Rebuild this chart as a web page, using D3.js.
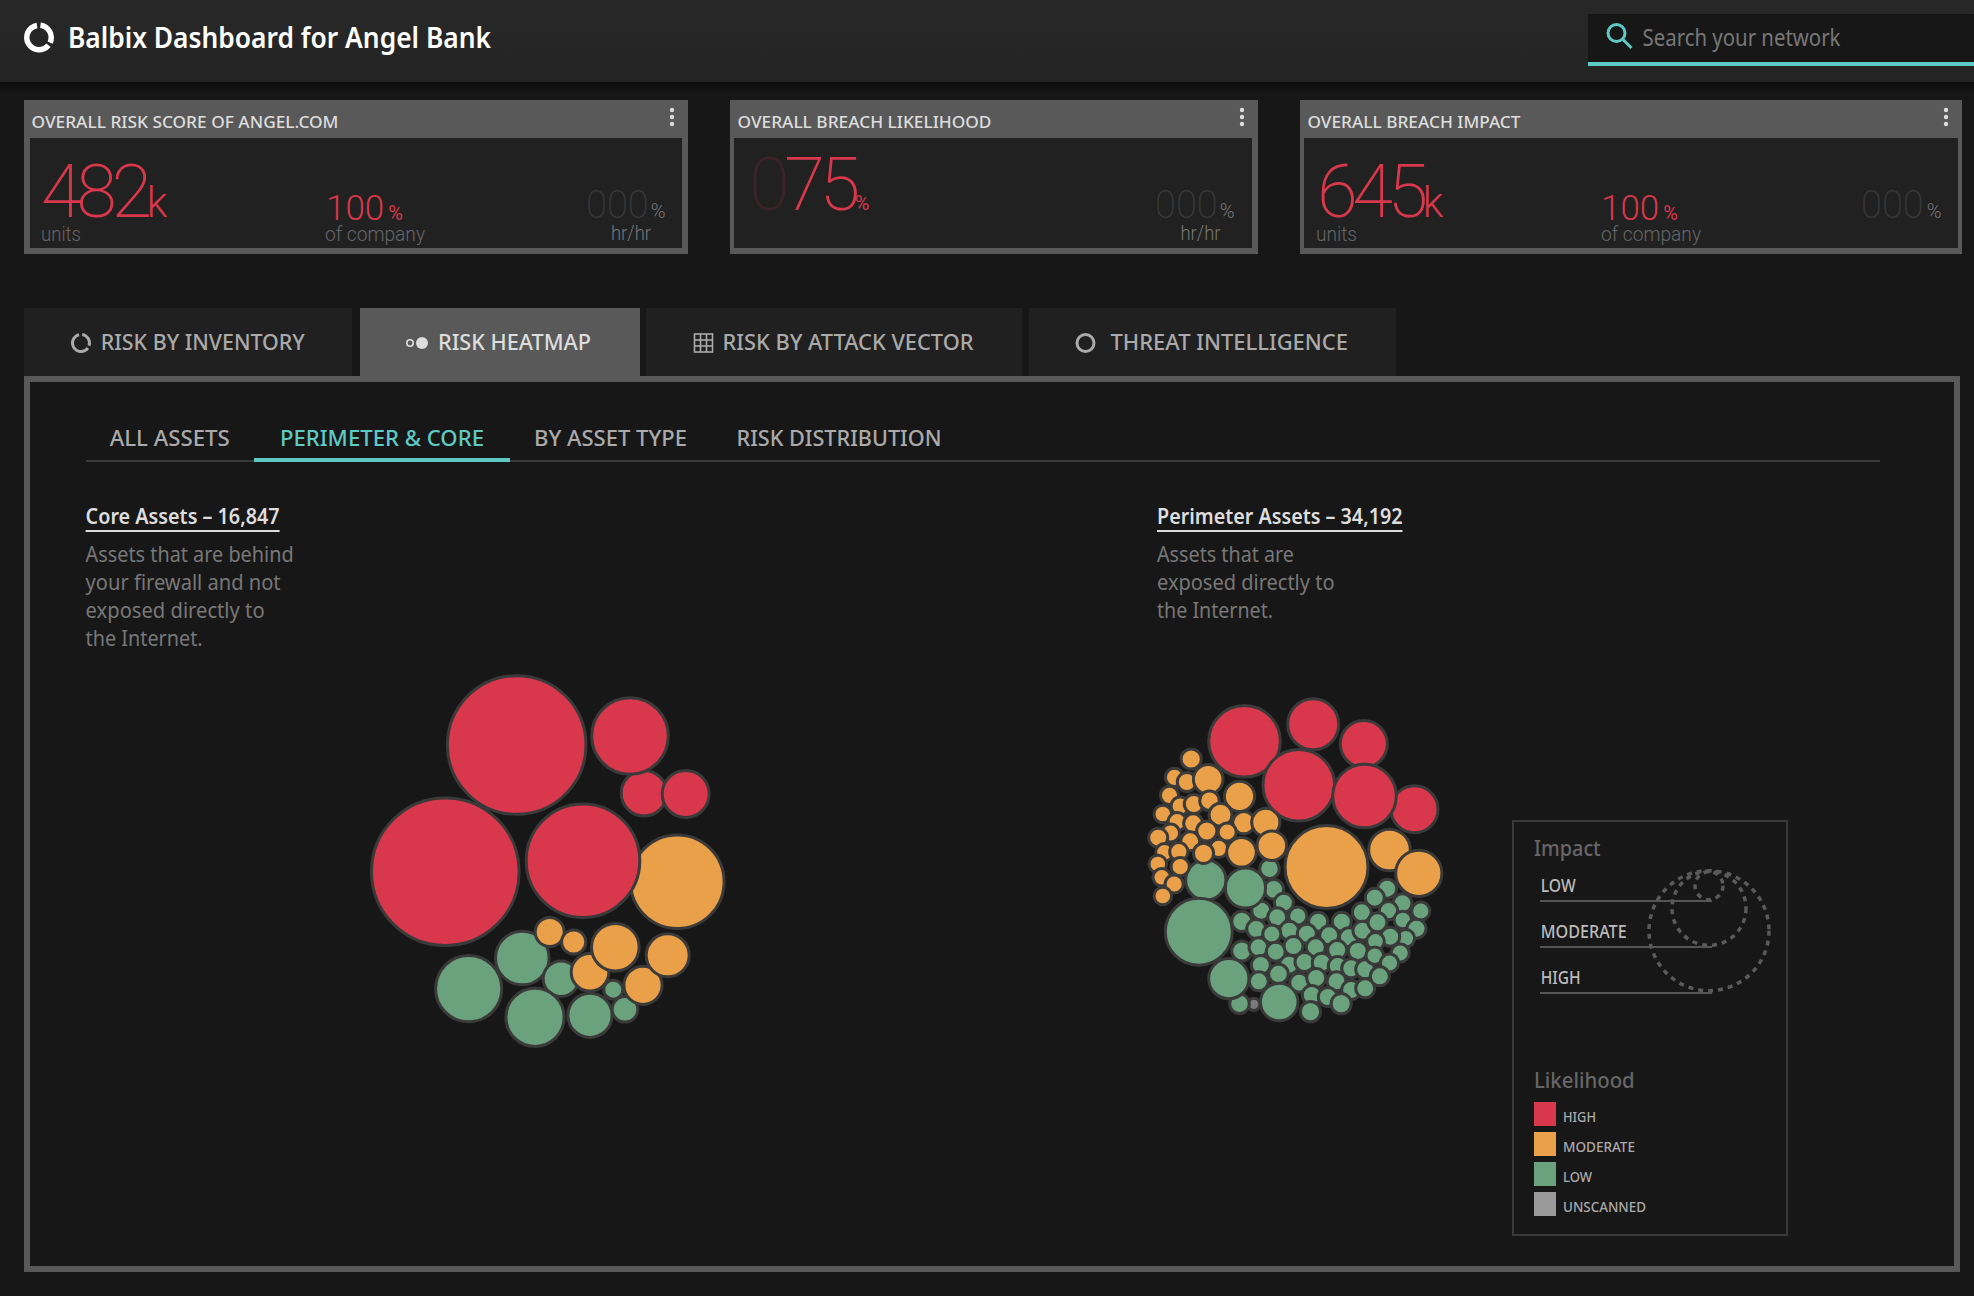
<!DOCTYPE html>
<html>
<head>
<meta charset="utf-8">
<title>Balbix Dashboard</title>
<script src="https://cdn.jsdelivr.net/npm/d3@7"></script>
<style>
html, body { margin: 0; padding: 0; background: #171717; }
svg { display: block; }
text { font-family: "Noto Sans", sans-serif; }
</style>
</head>
<body>
<div id="chart"></div>
<script>
// values: [x offset, y offset, impact] from each cluster's middle
var coreLow = [[-42.7,78,26],[-96.3,108.7,32.3],[-4,98.7,17],[-30,137.3,28.3],[25,135.3,21.3],[48.3,109.7,8.7],[60,129.3,12]];
var coreModerate = [[112.3,1.7,46],[-15.3,52,13.7],[8.7,62,11.3],[25,92.3,18],[50.3,67.3,23],[78,105.3,18.3],[102.7,75.3,20.7]];
var coreHigh = [[-119.7,-8.3,73],[-48.3,-135,68.5],[18,-19.3,56],[79,-86.7,22],[65,-144,37.5],[120.7,-86,22.7]];

var perimeterLow = [[-21,-11.3,9],[-16.7,9.3,9],[-6.7,22.7,8.7],[-29.3,30.7,8.7],[-13.3,37.3,8.7],[7.3,36,8.3],[-48.7,41.3,9.3],
    [27.7,41.7,8.7],[51.3,41.7,8.7],[71.3,32.3,8.7],[-34.3,49,8.7],[-1.3,50.7,8.7],[-18.7,54,8.3],[16.3,53.7,8.7],[38.7,55.3,8.7],
    [58.3,57.3,8.7],[72,50.7,8.7],[-48.7,71,9.3],[-32,67.3,8.7],[-14.7,71.7,8.7],[3,66,8.7],[25.3,67.3,8.7],[46.7,70,8.7],[67.3,71,8.7],
    [-29.7,85,8.7],[-1.3,84.7,8.7],[14,82,8.7],[31.3,82.7,8.7],[47.3,86,8.7],[60.7,88.3,8.7],[74.7,89.3,8.7],[-12,94,9],[-31.7,101.3,8.7],
    [8.7,102.7,8.7],[25.7,98,8.7],[46,101.3,8.7],[60.7,110,8.7],[74.7,108.3,8.7],[21.3,115,8.7],[37.3,117,8.7],[50.7,123.7,9.3],[20,131.7,9.3],
    [-51,123.7,9],[96.7,8.7,8.7],[84.3,17.7,8.7],[112,23.3,8.7],[130.3,31,8.3],[98,30.7,8.3],[112.3,40,8],[87,42.3,8.7],[126,48.7,8.7],
    [115.3,58.3,8],[99.7,56.7,8.7],[85,61.3,8],[109.7,73,8.3],[84.3,75.7,8],[99,83,8.3],[89.3,96.3,8.7],
    [-84.7,0,19.3],[-45,8,19.3],[-91.7,51.7,32.7],[-61.7,98.7,19.3],[-11.3,122,18]];
var perimeterModerate = [[-99.3,-121,9.3],[-116,-102.7,8.3],[-103.7,-98,8.7],[-82.3,-100.7,14],[-51,-83.7,14.3],[-121,-84.7,8.3],[-110.3,-74,8.3],
    [-96.7,-76,8.7],[-81,-79.3,9],[-127.7,-66,8],[-70,-65.3,10.7],[-113.3,-58.3,8.3],[-97.3,-56.7,8.7],[-46.7,-57.3,10.3],[-24.7,-57.7,13.3],
    [-83.7,-49,9.3],[-63.3,-48,8.3],[-120,-47,8.3],[-132.3,-42.3,8.7],[-100.3,-38.7,8.7],[-71.7,-31.7,8.3],[-49,-27.7,14],[-18.7,-34.3,14],
    [-126,-27.7,8],[-111.7,-28.3,8.3],[-87,-26.7,9.3],[-132.7,-16,8],[-110.3,-13.3,8.3],[-128.7,-2.7,8],[-116.3,4,8.3],[-127.7,16,8],
    [36,-13,40.7],[99,-30,20],[128.3,-6.7,22.3]];
var perimeterHigh = [[-46,-138.7,35],[22.7,-155.7,24.7],[8.3,-94.7,35],[73.3,-136,22.7],[124,-70.7,22.7],[74,-84,31]];
var perimeterUnscanned = [[-36.7,124.3,5.3]];

var cardTitles = ["OVERALL RISK SCORE OF ANGEL.COM", "OVERALL BREACH LIKELIHOOD", "OVERALL BREACH IMPACT"];
var tabLabels = ["RISK BY INVENTORY", "RISK HEATMAP", "RISK BY ATTACK VECTOR", "THREAT INTELLIGENCE"];
var subTabLabels = ["ALL ASSETS", "PERIMETER & CORE", "BY ASSET TYPE", "RISK DISTRIBUTION"];
var impactLabels = ["LOW", "MODERATE", "HIGH"];
var likelihoodLabels = ["HIGH", "MODERATE", "LOW", "UNSCANNED"];
var coreText = ["Assets that are behind", "your firewall and not", "exposed directly to", "the Internet."];
var perimeterText = ["Assets that are", "exposed directly to", "the Internet."];

var RED = "#d9374b", ORANGE = "#e9a048", GREEN = "#69a27c", TEAL = "#5fc9c4";
var PANEL = "#595959";
var NUM = "Roboto, sans-serif";

var svg = d3.select("#chart").append("svg").attr("width", 1974).attr("height", 1296);

// text is squeezed to the measured width because the original font is narrower
function label(g, s, x, y, size, color, width, weight, family) {
    var t = g.append("text").attr("x", x).attr("y", y).attr("font-size", size).attr("fill", color).text(s);
    if (width) t.attr("textLength", width).attr("lengthAdjust", "spacingAndGlyphs");
    if (weight) t.attr("font-weight", weight);
    if (family) t.style("font-family", family);
    return t;
}
function box(g, x, y, w, h, fill) {
    return g.append("rect").attr("x", x).attr("y", y).attr("width", w).attr("height", h).attr("fill", fill);
}
// a figure and its unit sit in one text: parts are [string, size, colour, letter spacing, dx, weight]
function figure(g, x, y, parts) {
    var t = g.append("text").attr("x", x).attr("y", y).style("font-family", NUM);
    parts.forEach(function (p) {
        t.append("tspan").attr("font-size", p[1]).attr("fill", p[2]).attr("dx", p[4] || 0)
            .attr("font-weight", p[5] || 200).style("letter-spacing", (p[3] || 0) + "px").text(p[0]);
    });
    return t;
}
function heading(x, y, s, width) {
    label(svg, s, x, y, 21, "#ddd", width, 600);
    box(svg, x, y + 6.5, width, 2, "#ddd");
}

svg.append("rect").attr("width", 1974).attr("height", 1296).attr("fill", "#171717");

// header
var defs = svg.append("defs");
var grad = defs.append("linearGradient").attr("id", "shade").attr("x1", 0).attr("y1", 0).attr("x2", 0).attr("y2", 1);
grad.append("stop").attr("offset", 0).attr("stop-color", "#282828");
grad.append("stop").attr("offset", 1).attr("stop-color", "#242424");
var shadow = defs.append("linearGradient").attr("id", "drop").attr("x1", 0).attr("y1", 0).attr("x2", 0).attr("y2", 1);
shadow.append("stop").attr("offset", 0).attr("stop-color", "#0c0c0c");
shadow.append("stop").attr("offset", 1).attr("stop-color", "#171717");
box(svg, 0, 0, 1974, 82, "url(#shade)");
box(svg, 0, 82, 1974, 12, "url(#drop)");

var logoArc = d3.arc().innerRadius(9.5).outerRadius(15);
[[0.12, 2.0], [2.25, 6.12]].forEach(function (a) {
    svg.append("path").attr("transform", "translate(39,37.5)").attr("fill", "#fff")
        .attr("d", logoArc({ startAngle: a[0], endAngle: a[1] }));
});
label(svg, "Balbix Dashboard for Angel Bank", 68, 47.5, 28, "#fff", 423, 600);

box(svg, 1588, 14, 386, 48, "#171717");
box(svg, 1588, 62, 386, 4, TEAL);
svg.append("circle").attr("cx", 1616.5).attr("cy", 33).attr("r", 8.5).attr("fill", "none").attr("stroke", TEAL).attr("stroke-width", 3);
svg.append("line").attr("x1", 1622.5).attr("y1", 39).attr("x2", 1631.5).attr("y2", 48).attr("stroke", TEAL).attr("stroke-width", 3);
label(svg, "Search your network", 1642.5, 46, 23, "#777", 198);

// score cards
function card(x0, x1, inner0, inner1, titleIndex, titleWidth, dotsX) {
    var g = svg.append("g");
    box(g, x0, 100, x1 - x0, 154, PANEL);
    box(g, inner0, 138, inner1 - inner0, 110, "#212121");
    label(g, cardTitles[titleIndex], x0 + 7.5, 128, 17, "#ddd", titleWidth, 500);
    [110, 117, 124].forEach(function (cy) {
        g.append("circle").attr("cx", dotsX).attr("cy", cy).attr("r", 2.2).attr("fill", "#ddd");
    });
    return g;
}
var DIM = "#383838", SOFT = "#777";
var c1 = card(24, 688, 30, 682, 0, 307, 672);
figure(c1, 41, 216.5, [["482", 74, RED, -5.5], ["k", 42, RED, 0, 0, 300]]);
figure(c1, 326, 220, [["100", 35, RED, 0, 0, 300], ["%", 20, RED, 0, 4, 400]]);
label(c1, "units", 41, 241, 20, "#666", 40, 300, NUM);
label(c1, "of company", 325, 241, 20, "#666", 100, 300, NUM);
figure(c1, 586, 218, [["000", 38, DIM], ["%", 20, SOFT, 0, 2, 300]]);
label(c1, "hr/hr", 611, 240, 20, SOFT, 40, 300, NUM);

var c2 = card(730, 1258, 734, 1252, 1, 254, 1242);
figure(c2, 749, 210, [["0", 74, "#3d2327", -5.5], ["75", 74, RED, -5.5], ["%", 20, RED, 0, 0, 400]]);
figure(c2, 1155, 218, [["000", 38, DIM], ["%", 20, SOFT, 0, 2, 300]]);
label(c2, "hr/hr", 1180.5, 240, 20, SOFT, 40, 300, NUM);

var c3 = card(1300, 1962, 1304, 1958, 2, 213, 1946);
figure(c3, 1317, 216.5, [["645", 74, RED, -5.5], ["k", 42, RED, 0, 0, 300]]);
figure(c3, 1601, 220, [["100", 35, RED, 0, 0, 300], ["%", 20, RED, 0, 4, 400]]);
label(c3, "units", 1316, 241, 20, "#666", 41, 300, NUM);
label(c3, "of company", 1601, 241, 20, "#666", 100, 300, NUM);
figure(c3, 1861, 218, [["000", 38, DIM], ["%", 20, SOFT, 0, 3, 300]]);

// main tabs and panel
box(svg, 24, 308, 328, 68, "#202020");
box(svg, 360, 308, 280, 68, PANEL);
box(svg, 646, 308, 376, 68, "#202020");
box(svg, 1029, 308, 367, 68, "#202020");
svg.append("rect").attr("x", 27).attr("y", 379).attr("width", 1930).attr("height", 890)
    .attr("fill", "#171717").attr("stroke", PANEL).attr("stroke-width", 6);

label(svg, tabLabels[0], 100.8, 350, 22, "#aaa", 204, 500);
label(svg, tabLabels[1], 438, 350, 22, "#ddd", 153, 500);
label(svg, tabLabels[2], 722.5, 350, 22, "#aaa", 251, 500);
label(svg, tabLabels[3], 1110.5, 350, 22, "#aaa", 237.5, 500);

var ringArc = d3.arc().innerRadius(7).outerRadius(10);
[[0.15, 1.9], [2.2, 6.05]].forEach(function (a) {
    svg.append("path").attr("transform", "translate(81,343)").attr("fill", "#aaa")
        .attr("d", ringArc({ startAngle: a[0], endAngle: a[1] }));
});
svg.append("circle").attr("cx", 410).attr("cy", 343).attr("r", 3.2).attr("fill", "none").attr("stroke", "#ddd").attr("stroke-width", 1.6);
svg.append("circle").attr("cx", 422).attr("cy", 343).attr("r", 6).attr("fill", "#ddd");
var grid = svg.append("g").attr("fill", "none").attr("stroke", "#aaa").attr("stroke-width", 1.6);
grid.append("rect").attr("x", 694.5).attr("y", 334).attr("width", 18).attr("height", 18);
[700.5, 706.5].forEach(function (x) { grid.append("line").attr("x1", x).attr("x2", x).attr("y1", 334).attr("y2", 352); });
[340, 346].forEach(function (y) { grid.append("line").attr("x1", 694.5).attr("x2", 712.5).attr("y1", y).attr("y2", y); });
svg.append("circle").attr("cx", 1085.5).attr("cy", 343).attr("r", 8.5).attr("fill", "none").attr("stroke", "#aaa").attr("stroke-width", 3);

// sub tabs
box(svg, 86, 460, 1794, 2, "#3a3a3a");
box(svg, 254, 458, 256, 4, TEAL);
label(svg, subTabLabels[0], 109.7, 446, 21.5, "#aaa", 120, 500);
label(svg, subTabLabels[1], 280, 446, 21.5, TEAL, 204, 500);
label(svg, subTabLabels[2], 534, 446, 21.5, "#aaa", 153, 500);
label(svg, subTabLabels[3], 736.5, 446, 21.5, "#aaa", 205, 500);

// cluster headings
heading(85.6, 523.5, "Core Assets \u2013 16,847", 194);
[208, 195, 179, 117].forEach(function (w, i) {
    label(svg, coreText[i], 85.6, [561.5, 589.5, 617.5, 645.5][i], 21, "#777", w);
});
heading(1157, 523.5, "Perimeter Assets \u2013 34,192", 245.5);
[137, 177.5, 116].forEach(function (w, i) {
    label(svg, perimeterText[i], 1157, [561.5, 589.5, 617.5][i], 21, "#777", w);
});

// bubbles, the offset in the range pushes the stroke mostly outside the read radius
var rScale = d3.scaleLinear().domain([0, 80]).range([0.8, 80.8]);
function drawCluster(cx, cy, groups) {
    var xScale = d3.scaleLinear().domain([-160, 160]).range([cx - 160, cx + 160]);
    var yScale = d3.scaleLinear().domain([-160, 160]).range([cy - 160, cy + 160]);
    var g = svg.append("g");
    groups.forEach(function (grp) {
        g.append("g").selectAll("circle")
            .data(grp.values)
            .enter().append("circle")
            .attr("cx", function (d) { return xScale(d[0]); })
            .attr("cy", function (d) { return yScale(d[1]); })
            .attr("r", function (d) { return rScale(d[2]); })
            .attr("fill", grp.color)
            .attr("stroke", "#3a3a3a")
            .attr("stroke-width", 3);
    });
}
drawCluster(565, 880, [
    { values: coreLow, color: GREEN },
    { values: coreModerate, color: ORANGE },
    { values: coreHigh, color: RED }
]);
drawCluster(1290.5, 880, [
    { values: perimeterUnscanned, color: "#7a7a7a" },
    { values: perimeterLow, color: GREEN },
    { values: perimeterModerate, color: ORANGE },
    { values: perimeterHigh, color: RED }
]);

// legend
var lg = svg.append("g");
lg.append("rect").attr("x", 1513).attr("y", 821).attr("width", 274).attr("height", 414)
    .attr("fill", "none").attr("stroke", "#3a3a3a").attr("stroke-width", 2);
label(lg, "Impact", 1534, 856, 21, "#666", 66.7, 500);
label(lg, "Likelihood", 1534, 1088, 21, "#666", 100.7, 500);
[35, 86, 40].forEach(function (w, i) {
    var base = 892 + i * 46;
    label(lg, impactLabels[i], 1540.7, base, 18, "#bbb", w, 500);
    box(lg, 1540, base + 8, 172, 2, "#555");
});
[[930.7, 60], [908.3, 37], [885.7, 14]].forEach(function (c) {
    lg.append("circle").attr("cx", 1709).attr("cy", c[0]).attr("r", c[1])
        .attr("fill", "none").attr("stroke", "#5a5a5a").attr("stroke-width", 3.5).attr("stroke-dasharray", "5,5");
});
var swatchColors = [RED, ORANGE, GREEN, "#9a9a9a"];
[33, 72, 29, 83].forEach(function (w, i) {
    box(lg, 1534, 1102 + i * 30, 22, 24, swatchColors[i]);
    label(lg, likelihoodLabels[i], 1563, 1122 + i * 30, 15, "#aaa", w, 500);
});
</script>
</body>
</html>
